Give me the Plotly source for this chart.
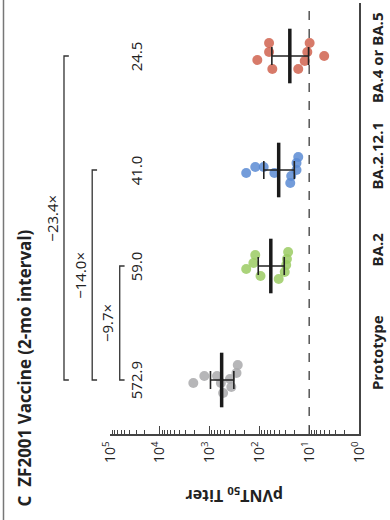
import plotly.graph_objects as go

# ---------------- data ----------------
categories = ["Prototype", "BA.2", "BA.2.12.1", "BA.4 or BA.5"]
gmt = [572.9, 59.0, 41.0, 24.5]
ci_low = [326, 31.7, 19.9, 10.3]
ci_high = [960, 105.5, 81.6, 56.2]
titers_prototype = [2123, 1276, 710, 593, 535, 390, 366, 288, 272]
titers_ba2 = [184, 132, 121, 95, 41, 31, 29, 28, 26.5]
titers_ba2121 = [184, 121, 82, 50, 24, 23, 18, 18, 16.6]
titers_ba45 = [110, 64, 64, 55, 16.6, 12.3, 10.9, 9.8, 5.0]
fold_labels = ["−9.7×", "−14.0×", "−23.4×"]
gmt_labels = ["572.9", "59.0", "41.0", "24.5"]
tick_vals = [1e5, 1e4, 1e3, 1e2, 1e1, 1e0]
tick_text = ["10<sup>5</sup>", "10<sup>4</sup>", "10<sup>3</sup>",
             "10<sup>2</sup>", "10<sup>1</sup>", "10<sup>0</sup>"]
threshold = 10

# ---------------- layout positions (pixel-like units, up = positive) ----------------
group_pos = [54, 168, 264, 378]
label_pos = [79, 182, 276, 374]
jitter = [
    [-3, 4, 4, -3, -13, 1, -7, 7, 15],
    [-3, 3, 11, -10, -13, -6, 1, 7, 14],
    [-3, 3, 3, -3, -13, -6, 0, 7, 13],
    [-4, 13, 4, -13, -13, -5, 4, 13, 0],
]
colors = ["#a9a9ab", "#9bcb63", "#5b8bd3", "#d0634f"]
all_titers = [titers_prototype, titers_ba2, titers_ba2121, titers_ba45]

W, H = 390, 520
ML, MR, MT, MB = 110, 24, 3, 86
PW = W - ML - MR
PH = H - MT - MB
YMAX = PH

def px_x(px):
    return (px - ML) / PW

def val_y(v):
    return v / YMAX

FONT = "Open Sans"
TXT = "#222222"
fig = go.Figure()

for i, t in enumerate(all_titers):
    fig.add_trace(go.Scatter(
        x=t, y=[group_pos[i] + j for j in jitter[i]], mode="markers",
        marker=dict(size=10, color=colors[i], opacity=0.85, line=dict(width=0)),
        showlegend=False, hoverinfo="skip"))

# error bars + mean line
fig.add_trace(go.Scatter(
    x=gmt, y=group_pos, mode="markers",
    marker=dict(symbol="line-ns", size=39, line=dict(width=3.5, color="#1a1a1a")),
    error_x=dict(type="data", symmetric=False,
                 array=[h - g for h, g in zip(ci_high, gmt)],
                 arrayminus=[g - l for g, l in zip(gmt, ci_low)],
                 color="#222222", thickness=1.6, width=9),
    showlegend=False, hoverinfo="skip"))

shapes = []
annotations = []

# dashed reference line at the detection threshold
shapes.append(dict(type="line", xref="x", yref="paper", x0=threshold, x1=threshold, y0=0, y1=1,
                   line=dict(color="#555555", width=1.5, dash="dash"), layer="below"))

# brackets: prototype vs each variant
bracket_px = [120, 91.7, 62.7]
label_px = [107, 79, 50]
for k, (bx, lx) in enumerate(zip(bracket_px, label_px)):
    top = group_pos[k + 1]
    bot = group_pos[0]
    x0 = px_x(bx)
    x1 = px_x(bx + 5)
    shapes.append(dict(type="path", xref="paper", yref="paper",
                       path=f"M {x1} {val_y(top)} L {x0} {val_y(top)} L {x0} {val_y(bot)} L {x1} {val_y(bot)}",
                       line=dict(color="#333333", width=1.3)))
    annotations.append(dict(xref="paper", yref="paper", x=px_x(lx), y=val_y((top + bot) / 2),
                            text=fold_labels[k], showarrow=False, textangle=-90,
                            font=dict(family=FONT, size=15, color=TXT),
                            xanchor="center", yanchor="middle"))

# GMT labels
for i, lab in enumerate(gmt_labels):
    annotations.append(dict(xref="paper", yref="y", x=px_x(137), y=group_pos[i],
                            text=lab, showarrow=False, textangle=-90,
                            font=dict(family=FONT, size=15, color=TXT),
                            xanchor="center", yanchor="middle"))

# title
annotations.append(dict(xref="paper", yref="paper", x=px_x(22), y=val_y(434 - 368),
                        text="<b>C  ZF2001 Vaccine (2-mo interval)</b>", showarrow=False,
                        textangle=-90, font=dict(family=FONT, size=17, color=TXT),
                        xanchor="center", yanchor="middle"))
# axis title (upside down)
annotations.append(dict(xref="paper", yref="paper", x=px_x(238), y=val_y(434 - 496),
                        text="<b>pVNT<sub>50</sub> Titer</b>", showarrow=False,
                        textangle=180, font=dict(family=FONT, size=16, color=TXT),
                        xanchor="center", yanchor="middle"))

# left border line
shapes.append(dict(type="line", xref="paper", yref="paper", x0=px_x(0.5), x1=px_x(0.5),
                   y0=val_y(434 - 520), y1=val_y(434), line=dict(color="#777777", width=1.5)))

minor_vals = [m * 10 ** e for e in range(0, 5) for m in range(2, 10)]

fig.update_layout(
    width=W, height=H, margin=dict(l=ML, r=MR, t=MT, b=MB),
    paper_bgcolor="white", plot_bgcolor="white",
    shapes=shapes, annotations=annotations,
    xaxis=dict(type="log", range=[5, 0], showgrid=False, zeroline=False,
               showline=True, linecolor="#444444", linewidth=1.5,
               tickmode="array", tickvals=tick_vals, ticktext=tick_text,
               ticks="inside", ticklen=8, tickwidth=1.2, tickcolor="#444444",
               tickangle=-90, tickfont=dict(family=FONT, size=14, color=TXT),
               minor=dict(tickmode="array", tickvals=minor_vals, ticks="inside",
                          ticklen=4, tickwidth=1, tickcolor="#444444", showgrid=False)),
    yaxis=dict(range=[0, YMAX], showgrid=False, zeroline=False, side="right",
               showline=True, linecolor="#444444", linewidth=1.5,
               tickmode="array", tickvals=label_pos, ticktext=[f"<b>{c}</b>" for c in categories],
               ticks="", tickangle=-90, ticklabelstandoff=4,
               tickfont=dict(family=FONT, size=15, color=TXT)),
)

fig.write_html("out.html")
